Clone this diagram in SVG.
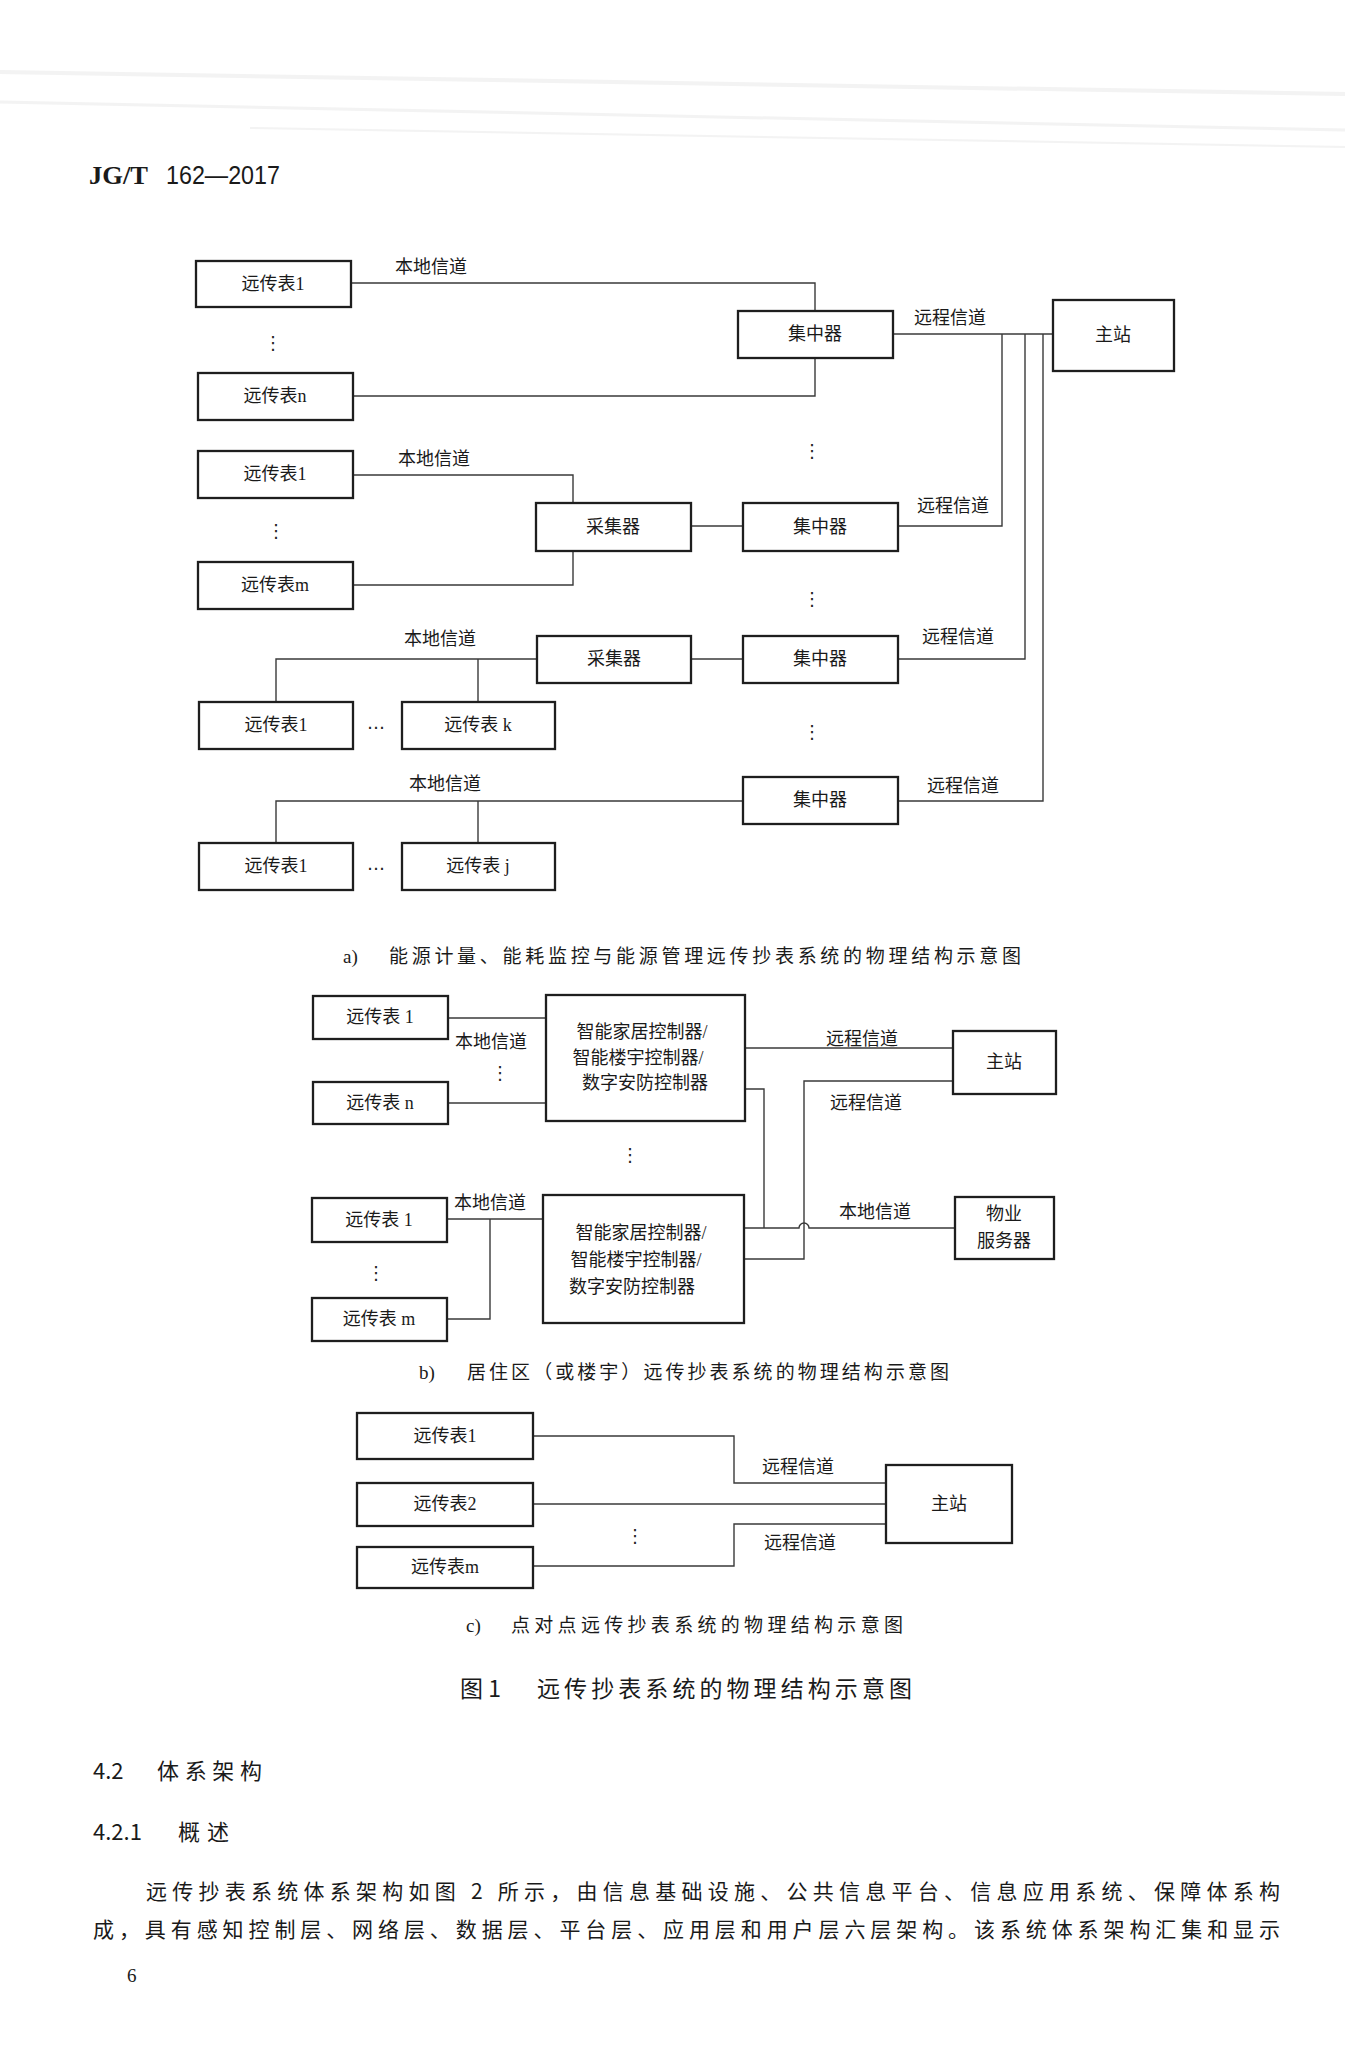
<svg xmlns="http://www.w3.org/2000/svg" width="1345" height="2048" viewBox="0 0 1345 2048">
<style>
.bx{fill:#fff;stroke:#1e1e1e;stroke-width:2.3}
.ln{fill:none;stroke:#3a3a3a;stroke-width:1.4}
.t{font-family:'Liberation Serif','Noto Sans CJK SC',serif;font-size:18px;fill:#1a1a1a;text-anchor:middle;dominant-baseline:central}
.ct{font-family:'Liberation Serif','Noto Sans CJK SC',serif;font-size:18px;fill:#1a1a1a;text-anchor:middle;dominant-baseline:central}
.lb{font-family:'Noto Sans CJK SC',sans-serif;font-size:18px;fill:#1a1a1a;text-anchor:middle;dominant-baseline:central}
.dt{font-family:'DejaVu Sans',sans-serif;font-size:18px;fill:#222;text-anchor:middle;dominant-baseline:central}
.cap{font-family:'Noto Sans CJK SC',sans-serif;font-size:19px;fill:#1a1a1a}
.capl{font-family:'Liberation Serif',serif;font-size:19px;fill:#1a1a1a}
.body{font-family:'Noto Sans CJK SC',sans-serif;font-size:21px;fill:#1a1a1a}
.scan{stroke:#d8d8d8;fill:none}
</style>

<g id="scan-shade" opacity="0.3">
<line class="scan" x1="0" y1="72" x2="1345" y2="94" stroke-width="4"/>
<line class="scan" x1="0" y1="102" x2="1345" y2="130" stroke-width="3"/>
<line class="scan" x1="250" y1="128" x2="1345" y2="147" stroke-width="2"/>
</g>

<g id="header">
<text x="89" y="184" font-family="'Liberation Serif',serif" font-weight="bold" font-size="26" fill="#1a1a1a" textLength="59" lengthAdjust="spacingAndGlyphs">JG/T</text>
<text x="166" y="184" font-family="'Liberation Sans',sans-serif" font-size="26" fill="#1a1a1a" textLength="114" lengthAdjust="spacingAndGlyphs">162—2017</text>
</g>

<g id="connectors">
<path class="ln" d="M351,283 H815 V311"/>
<path class="ln" d="M353,396 H815 V358"/>
<path class="ln" d="M893,334 H1053"/>
<path class="ln" d="M1002,334 V526 H898"/>
<path class="ln" d="M1025,334 V659 H898"/>
<path class="ln" d="M1043,334 V801 H898"/>
<path class="ln" d="M353,475 H573 V503"/>
<path class="ln" d="M353,585 H573 V551"/>
<path class="ln" d="M691,526 H743"/>
<path class="ln" d="M691,659 H743"/>
<path class="ln" d="M537,659 H276 V702"/>
<path class="ln" d="M478,659 V702"/>
<path class="ln" d="M743,801 H276 V843"/>
<path class="ln" d="M478,801 V843"/>
<path class="ln" d="M448,1018 H546"/>
<path class="ln" d="M448,1103 H546"/>
<path class="ln" d="M745,1048 H953"/>
<path class="ln" d="M953,1081 H804 V1259 H744"/>
<path class="ln" d="M745,1089 H764 V1228"/>
<path class="ln" d="M744,1228 H799 A5,5 0 0 1 809,1228 H955"/>
<path class="ln" d="M447,1219 H543"/>
<path class="ln" d="M490,1219 V1319 H447"/>
<path class="ln" d="M533,1436 H734 V1483 H886"/>
<path class="ln" d="M533,1504 H886"/>
<path class="ln" d="M533,1566 H734 V1524 H886"/>
</g>

<g id="a-meter1-row1"><rect class="bx" x="196" y="261" width="155" height="46"/><text class="t" x="273" y="284">远传表1</text></g>
<g id="a-meter-n-row1"><rect class="bx" x="198" y="373" width="155" height="47"/><text class="t" x="275" y="396">远传表n</text></g>
<g id="a-concentrator1"><rect class="bx" x="738" y="311" width="155" height="47"/><text class="t" x="815" y="334">集中器</text></g>
<g id="a-master"><rect class="bx" x="1053" y="300" width="121" height="71"/><text class="t" x="1113" y="335">主站</text></g>
<g id="a-meter1-row2"><rect class="bx" x="198" y="451" width="155" height="47"/><text class="t" x="275" y="474">远传表1</text></g>
<g id="a-meter-m-row2"><rect class="bx" x="198" y="562" width="155" height="47"/><text class="t" x="275" y="585">远传表m</text></g>
<g id="a-collector2"><rect class="bx" x="536" y="503" width="155" height="48"/><text class="t" x="613" y="527">采集器</text></g>
<g id="a-concentrator2"><rect class="bx" x="743" y="503" width="155" height="48"/><text class="t" x="820" y="527">集中器</text></g>
<g id="a-collector3"><rect class="bx" x="537" y="636" width="154" height="47"/><text class="t" x="614" y="659">采集器</text></g>
<g id="a-concentrator3"><rect class="bx" x="743" y="636" width="155" height="47"/><text class="t" x="820" y="659">集中器</text></g>
<g id="a-meter1-row3"><rect class="bx" x="199" y="702" width="154" height="47"/><text class="t" x="276" y="725">远传表1</text></g>
<g id="a-meter-k-row3"><rect class="bx" x="402" y="702" width="153" height="47"/><text class="t" x="478" y="725">远传表 k</text></g>
<g id="a-concentrator4"><rect class="bx" x="743" y="777" width="155" height="47"/><text class="t" x="820" y="800">集中器</text></g>
<g id="a-meter1-row4"><rect class="bx" x="199" y="843" width="154" height="47"/><text class="t" x="276" y="866">远传表1</text></g>
<g id="a-meter-j-row4"><rect class="bx" x="402" y="843" width="153" height="47"/><text class="t" x="478" y="866">远传表 j</text></g>

<g id="a-labels">
<text class="lb" x="431" y="265">本地信道</text>
<text class="lb" x="950" y="316">远程信道</text>
<text class="lb" x="434" y="457">本地信道</text>
<text class="lb" x="953" y="504">远程信道</text>
<text class="lb" x="440" y="637">本地信道</text>
<text class="lb" x="958" y="635">远程信道</text>
<text class="lb" x="445" y="782">本地信道</text>
<text class="lb" x="963" y="784">远程信道</text>
<text class="dt" x="273" y="342">⋮</text>
<text class="dt" x="276" y="530">⋮</text>
<text class="dt" x="812" y="450">⋮</text>
<text class="dt" x="812" y="598">⋮</text>
<text class="dt" x="812" y="731">⋮</text>
<text class="dt" x="376" y="722" font-size="15">…</text>
<text class="dt" x="376" y="863" font-size="15">…</text>
</g>
<g id="caption-a">
<text class="capl" x="343" y="963">a)</text>
<text class="cap" x="389" y="963" textLength="632" lengthAdjust="spacing">能源计量、能耗监控与能源管理远传抄表系统的物理结构示意图</text>
</g>

<g id="b-meter1-top"><rect class="bx" x="313" y="996" width="135" height="43"/><text class="t" x="380" y="1017">远传表 1</text></g>
<g id="b-meter-n"><rect class="bx" x="313" y="1082" width="135" height="42"/><text class="t" x="380" y="1103">远传表 n</text></g>
<g id="b-controller1"><rect class="bx" x="546" y="995" width="199" height="126"/>
<text class="ct" x="642" y="1032">智能家居控制器/</text>
<text class="ct" x="638" y="1058">智能楼宇控制器/</text>
<text class="ct" x="645" y="1083">数字安防控制器</text></g>
<g id="b-master"><rect class="bx" x="953" y="1031" width="103" height="63"/><text class="t" x="1004" y="1062">主站</text></g>
<g id="b-controller2"><rect class="bx" x="543" y="1195" width="201" height="128"/>
<text class="ct" x="641" y="1233">智能家居控制器/</text>
<text class="ct" x="636" y="1260">智能楼宇控制器/</text>
<text class="ct" x="632" y="1287">数字安防控制器</text></g>
<g id="b-meter1-bottom"><rect class="bx" x="312" y="1198" width="135" height="44"/><text class="t" x="379" y="1220">远传表 1</text></g>
<g id="b-meter-m"><rect class="bx" x="312" y="1298" width="135" height="43"/><text class="t" x="379" y="1319">远传表 m</text></g>
<g id="b-property-server"><rect class="bx" x="955" y="1197" width="99" height="62"/>
<text class="t" x="1004" y="1214">物业</text>
<text class="t" x="1004" y="1241">服务器</text></g>
<g id="b-labels">
<text class="lb" x="491" y="1040">本地信道</text>
<text class="lb" x="862" y="1037">远程信道</text>
<text class="lb" x="866" y="1101">远程信道</text>
<text class="lb" x="490" y="1201">本地信道</text>
<text class="lb" x="875" y="1210">本地信道</text>
<text class="dt" x="500" y="1072">⋮</text>
<text class="dt" x="630" y="1154">⋮</text>
<text class="dt" x="376" y="1272">⋮</text>
</g>
<g id="caption-b">
<text class="capl" x="419" y="1379">b)</text>
<text class="cap" x="467" y="1379" textLength="482" lengthAdjust="spacing">居住区（或楼宇）远传抄表系统的物理结构示意图</text>
</g>

<g id="c-meter1"><rect class="bx" x="357" y="1413" width="176" height="46"/><text class="t" x="445" y="1436">远传表1</text></g>
<g id="c-meter2"><rect class="bx" x="357" y="1483" width="176" height="43"/><text class="t" x="445" y="1504">远传表2</text></g>
<g id="c-meter-m"><rect class="bx" x="357" y="1547" width="176" height="41"/><text class="t" x="445" y="1567">远传表m</text></g>
<g id="c-master"><rect class="bx" x="886" y="1465" width="126" height="78"/><text class="t" x="949" y="1504">主站</text></g>
<g id="c-labels">
<text class="lb" x="798" y="1465">远程信道</text>
<text class="lb" x="800" y="1541">远程信道</text>
<text class="dt" x="635" y="1535">⋮</text>
</g>
<g id="caption-c">
<text class="capl" x="466" y="1632">c)</text>
<text class="cap" x="511" y="1632" textLength="392" lengthAdjust="spacing">点对点远传抄表系统的物理结构示意图</text>
</g>

<g id="figure-title">
<text x="460" y="1697" font-family="'Noto Sans CJK SC',sans-serif" font-size="23" fill="#1a1a1a">图 1</text>
<text x="537" y="1697" font-family="'Noto Sans CJK SC',sans-serif" font-size="23" fill="#1a1a1a" textLength="375" lengthAdjust="spacing">远传抄表系统的物理结构示意图</text>
</g>

<g id="body-text">
<text x="93" y="1779" font-family="'Noto Sans CJK SC',sans-serif" font-size="22" fill="#1a1a1a">4.2</text>
<text x="157" y="1779" font-family="'Noto Sans CJK SC',sans-serif" font-size="22" fill="#1a1a1a" textLength="105" lengthAdjust="spacing">体系架构</text>
<text x="93" y="1840" font-family="'Noto Sans CJK SC',sans-serif" font-size="22" fill="#1a1a1a">4.2.1</text>
<text x="178" y="1840" font-family="'Noto Sans CJK SC',sans-serif" font-size="22" fill="#1a1a1a" textLength="51" lengthAdjust="spacing">概述</text>
<text class="body" x="146" y="1899" textLength="1134" lengthAdjust="spacing">远传抄表系统体系架构如图 2 所示，由信息基础设施、公共信息平台、信息应用系统、保障体系构</text>
<text class="body" x="93" y="1937" textLength="1187" lengthAdjust="spacing">成，具有感知控制层、网络层、数据层、平台层、应用层和用户层六层架构。该系统体系架构汇集和显示</text>
<text x="127" y="1982" font-family="'Liberation Serif',serif" font-size="19" fill="#1a1a1a">6</text>
</g>
</svg>
